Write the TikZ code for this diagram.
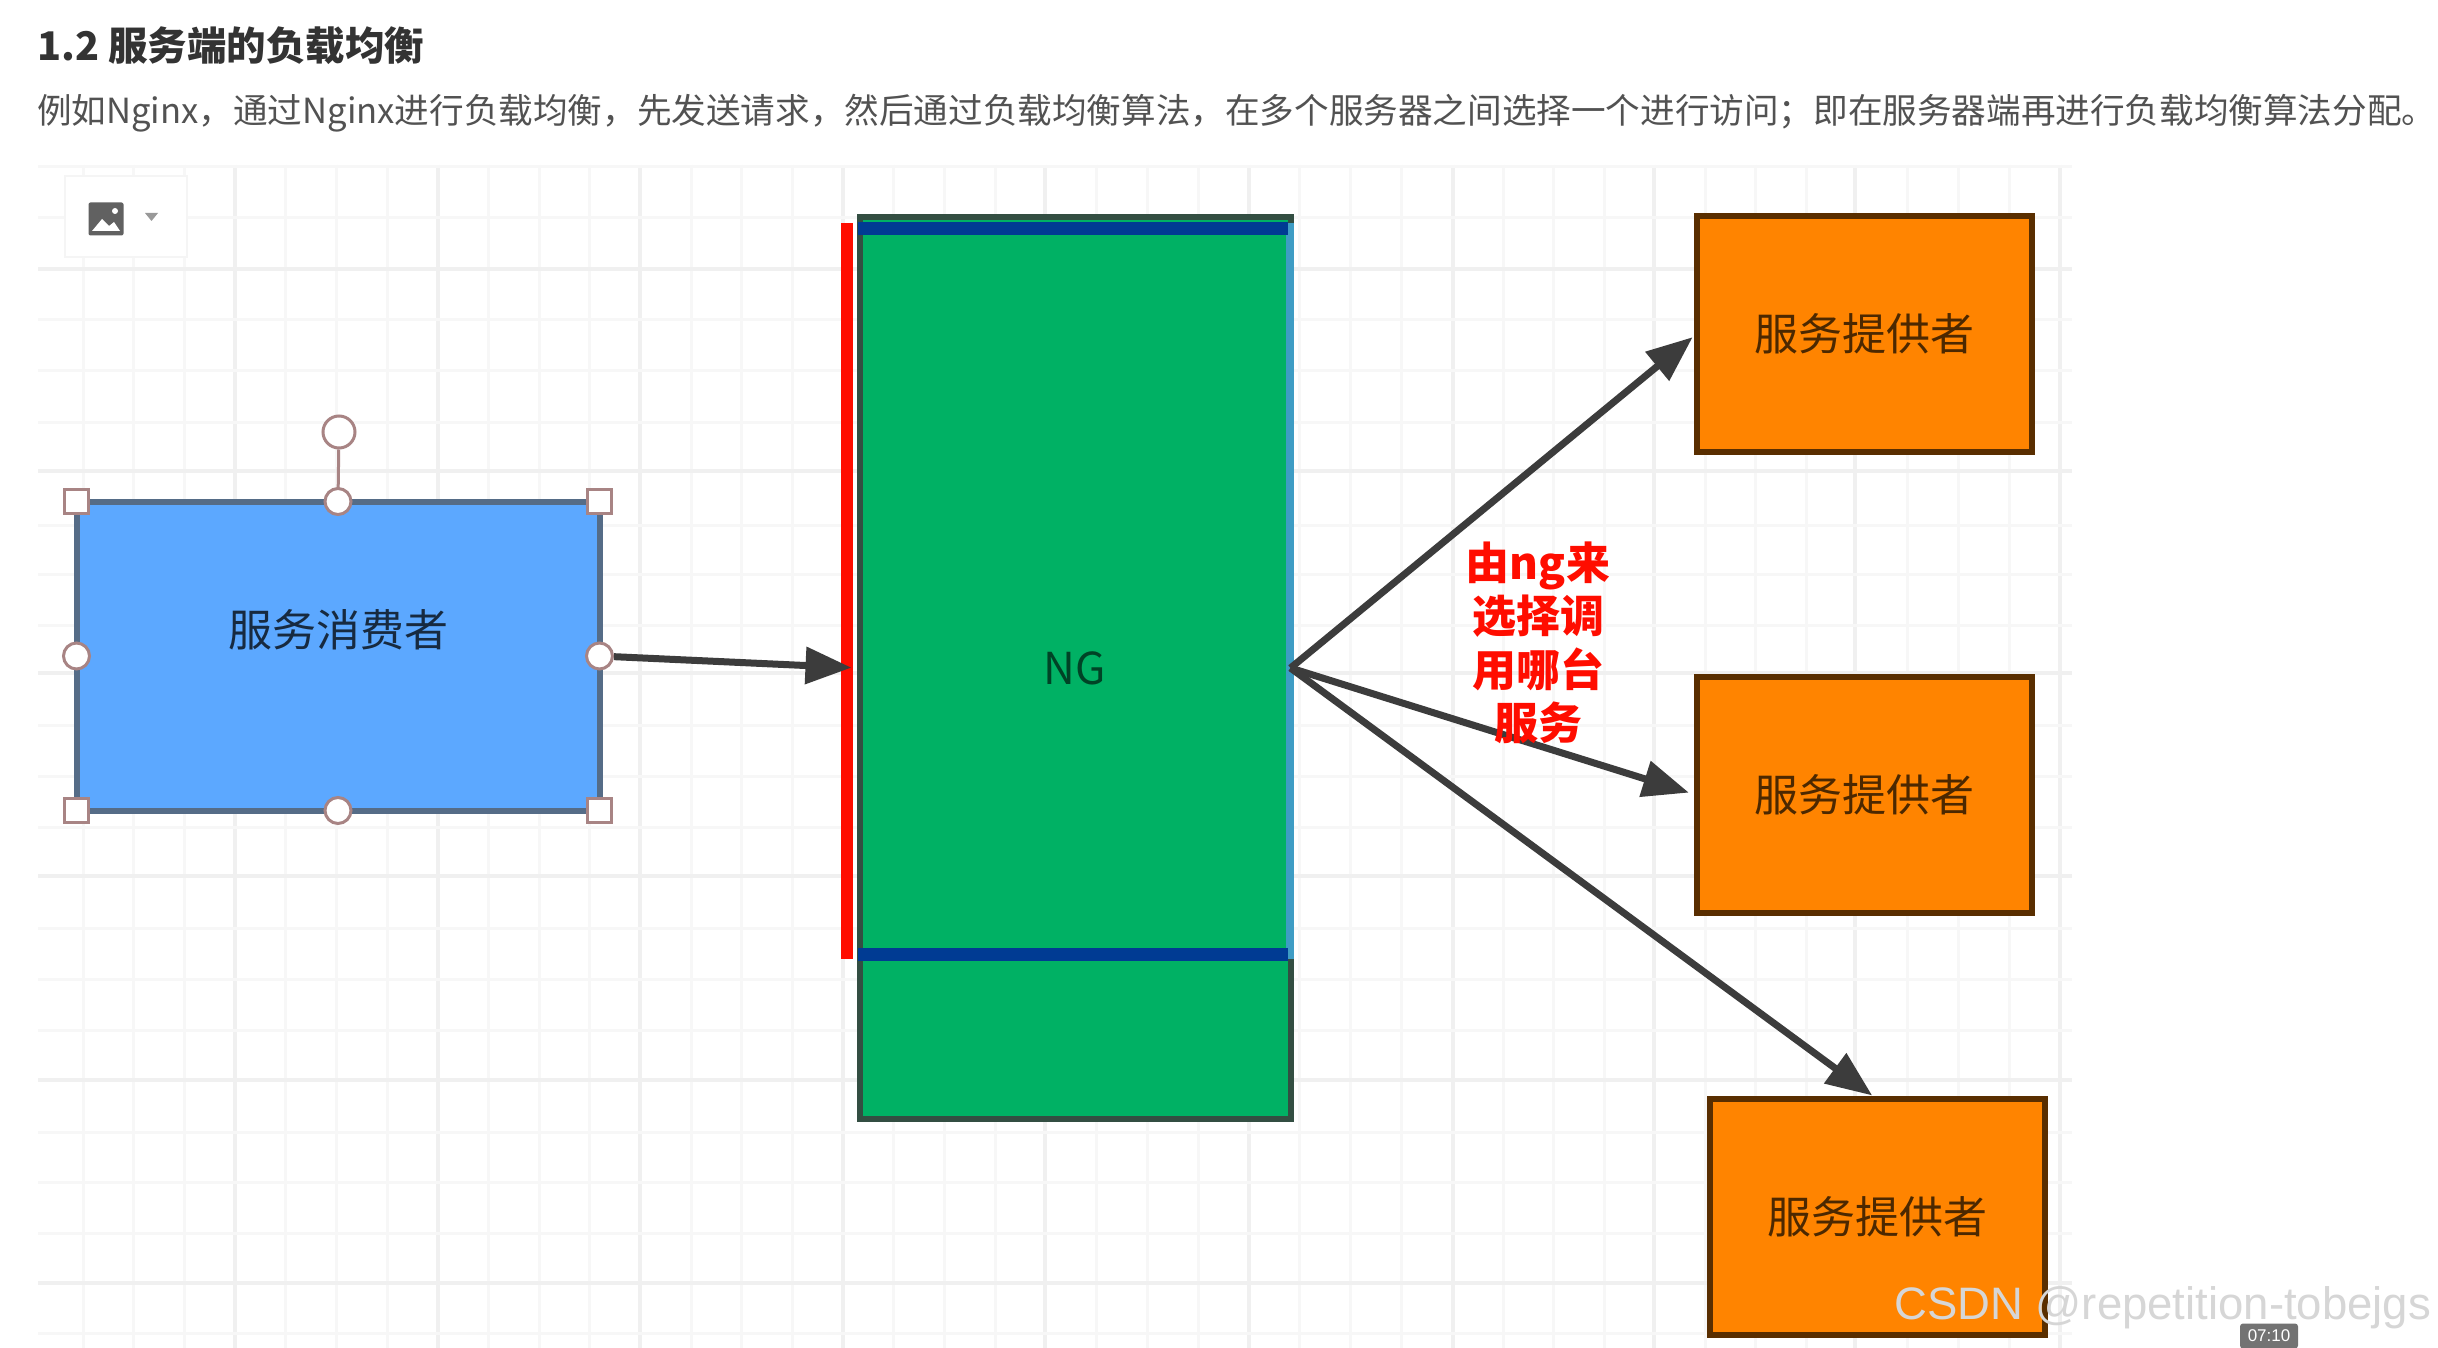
\documentclass[tikz,border=0pt]{standalone}
\usepackage{fontspec}
\setmainfont{Noto Sans CJK SC}
\newfontfamily\markfont{Liberation Sans}
\definecolor{lbgrid}{HTML}{F7F7F7}
\definecolor{lbgridmajor}{HTML}{F0F0F0}
\definecolor{lbblue}{HTML}{5CA8FF}
\definecolor{lbgreen}{HTML}{00B164}
\definecolor{lborange}{HTML}{FF8400}
\definecolor{lbdark}{HTML}{3C3C3C}
\definecolor{lbhandle}{HTML}{A88484}
\definecolor{lbnavy}{HTML}{003B93}
\definecolor{lbsky}{HTML}{3E9CC4}
\usetikzlibrary{arrows.meta,positioning}

\begin{document}
\begin{tikzpicture}[x=1pt,y=-1pt,
  box/.style={draw, line width=6pt, outer sep=0pt, inner sep=0pt, align=center,
              font=\fontsize{44}{50}\selectfont},
  cons/.style={box, draw=black!45!lbblue!55!gray, fill=lbblue,
               minimum width=523pt, minimum height=309pt},
  prov/.style={box, draw=black!65!lborange, fill=lborange, text=black!70!lborange,
               minimum width=335pt, minimum height=236pt},
  bar/.style={inner sep=0pt, outer sep=0pt},
  squarehd/.style={draw=lbhandle, fill=white, line width=3pt, inner sep=0pt, minimum size=24pt},
  roundhd/.style={draw=lbhandle, fill=white, line width=3pt, circle, inner sep=0pt, minimum size=26pt},
  arr/.style={draw=lbdark, line width=7pt, -{Triangle[length=46pt,width=36pt]}}
]
  \useasboundingbox (0,0) rectangle (2438,1348);
  \fill[white] (0,0) rectangle (2438,1348);

  % grid
  \foreach \gx in {83,133,184,285,336,387,488,539,589,691,741,792,893,944,995,1096,1147,1198,1299,1350,1401,1503,1553,1604,1705,1755,1806,1907,1958,2009}
    \draw[lbgrid, line width=3pt] (\gx,165) -- (\gx,1348);
  \foreach \gx in {235,438,640,843,1045,1249,1453,1654,1855,2060}
    \draw[lbgridmajor, line width=4pt] (\gx,165) -- (\gx,1348);
  \foreach \gy in {167,218,319,370,422,525,574,625,725,776,827,928,979,1030,1132,1182,1233,1333}
    \draw[lbgrid, line width=3pt] (38,\gy) -- (2072,\gy);
  \foreach \gy in {269,471,673,876,1080,1283}
    \draw[lbgridmajor, line width=4pt] (38,\gy) -- (2072,\gy);

  % text above
  \node[anchor=west, inner sep=0pt, text=black!80, font=\fontsize{39.5}{44}\bfseries\selectfont] (title) at (37,46)
    {1.2 服务端的负载均衡};
  \node[anchor=west, inner sep=0pt, text=black!68, font=\fontsize{34.6}{40}\selectfont] (intro) at (37,113)
    {例如Nginx，通过Nginx进行负载均衡，先发送请求，然后通过负载均衡算法，在多个服务器之间选择一个进行访问；即在服务器端再进行负载均衡算法分配。};

  % toolbar
  \node[draw=black!4, fill=white, line width=2pt, minimum width=122pt, minimum height=81pt, bar] (tool) at (126,217) {};
  \node[fill=black!62, minimum width=35pt, minimum height=33pt, rounded corners=2pt, bar] (icon) at (106,219) {};
  \fill[white] (92,231) -- (102,219) -- (109,226) -- (114,222) -- (120,231) -- cycle;
  \fill[white] (115,211) circle (3);
  \fill[black!40] (145,213) -- (158,213) -- (151.5,221) -- cycle;

  % boxes
  \node[box, draw=lbdark!85!lbgreen, fill=lbgreen, text=black!62!lbgreen,
        minimum width=431pt, minimum height=902pt] (ng) at (1075,668) {NG};
  \node[bar, fill=red!90!orange, minimum width=12pt, minimum height=736pt] (redbar) at (847,591) {};
  \node[bar, fill=lbsky, minimum width=8pt, minimum height=736pt] (skybar) at (1290,591) {};
  \node[bar, fill=lbnavy, minimum width=430pt, minimum height=13pt] (topbar) at (1073,229) {};
  \node[bar, fill=lbnavy, minimum width=430pt, minimum height=13pt] (lowbar) at (1073,954) {};

  \node[cons] (consumer) at (338,656) {};
  \node[font=\fontsize{44}{50}\selectfont, text=black!75!lbblue, inner sep=0pt] (consumertext) at (338,630) {服务消费者};
  \node[prov] (prova) at (1864,334) {服务提供者};
  \node[prov] (provb) at (1864,795) {服务提供者};
  \node[prov] (provc) at (1877,1217) {服务提供者};

  % handles of the selected box
  \node[roundhd, minimum size=32pt] (hrot) at (339,432) {};
  \draw[lbhandle, line width=3pt] (hrot) -- (consumer.north);
  \node[squarehd] (hnw) at (consumer.north west) {};
  \node[squarehd] (hne) at (consumer.north east) {};
  \node[squarehd] (hsw) at (consumer.south west) {};
  \node[squarehd] (hse) at (consumer.south east) {};
  \node[roundhd] (hn) at (consumer.north) {};
  \node[roundhd] (hs) at (consumer.south) {};
  \node[roundhd] (hw) at (consumer.west) {};
  \node[roundhd] (he) at (consumer.east) {};

  % arrows
  \draw[arr, shorten >=8pt] (he) -- (ng.west);
  \draw[arr, shorten >=5pt] (ng.east) -- (prova.west);
  \draw[arr, shorten >=8pt] (ng.east) -- (provb.west);
  \draw[arr, shorten >=6pt] (ng.east) -- (provc.north);

  \node[align=center, text=red!90!orange, inner sep=0pt, font=\fontsize{44}{53.5}\bfseries\selectfont] (pick) at (1538,643)
    {由ng来\\选择调\\用哪台\\服务};

  % watermark
  \node[anchor=west, inner sep=0pt, text=black!16, font=\markfont\fontsize{45.5}{50}\selectfont] (mark) at (1894,1308)
    {CSDN @repetition-tobejgs};
  \node[fill=black!55, text=white, rounded corners=3pt, inner sep=0pt, minimum width=58pt, minimum height=25pt,
        font=\markfont\fontsize{17}{20}\selectfont] (clock) at (2269,1336) {07:10};
\end{tikzpicture}
\end{document}
